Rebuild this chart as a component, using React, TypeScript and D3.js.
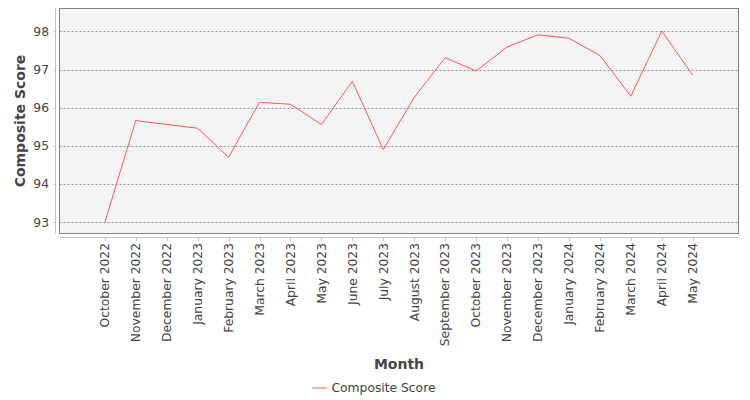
import React from 'react'
import { scalePoint, scaleLinear, line } from 'd3'

const months = [
    'October 2022', 'November 2022', 'December 2022', 'January 2023', 'February 2023',
    'March 2023', 'April 2023', 'May 2023', 'June 2023', 'July 2023', 'August 2023',
    'September 2023', 'October 2023', 'November 2023', 'December 2023', 'January 2024',
    'February 2024', 'March 2024', 'April 2024', 'May 2024',
]
const scores = [
    92.99, 95.66, 95.56, 95.46, 94.70, 96.14, 96.09, 95.56, 96.69, 94.90, 96.27,
    97.31, 96.96, 97.59, 97.91, 97.82, 97.37, 96.30, 98.01, 96.85,
]
const yTicks = [93, 94, 95, 96, 97, 98]
const seriesName = 'Composite Score'

const W = 750
const H = 400
const plot = { left: 59.5, right: 738.5, top: 8.5, bottom: 233.5 }
const font = '"DejaVu Sans", sans-serif'
const textColor = '#444444'
const lineColor = '#ff5555'

const App = () => {
    const x = scalePoint<string>()
        .domain(months)
        .range([59, 738.5])
        .padding(1.48)
    const y = scaleLinear()
        .domain([92.7, 98.6])
        .range([plot.bottom, plot.top])

    const path = line<number>()
        .x((d, i) => x(months[i]) as number)
        .y(d => y(d))(scores)

    const xAxisY = 237.5
    const yAxisX = 55.5

    return (
        <div style={{ position: 'absolute', left: 0, top: 0 }}>
            <svg width={W} height={H} style={{ display: 'block', fontFamily: font }}>
                <rect x={0} y={0} width={W} height={H} fill="#ffffff" />
                {/* plot background */}
                <rect
                    x={plot.left}
                    y={plot.top}
                    width={plot.right - plot.left}
                    height={plot.bottom - plot.top}
                    fill="#f4f4f4"
                />
                {/* gridlines */}
                {yTicks.map(t => (
                    <line
                        key={'g' + t}
                        x1={plot.left}
                        x2={plot.right}
                        y1={Math.round(y(t)) + 0.5}
                        y2={Math.round(y(t)) + 0.5}
                        stroke="#777777"
                        strokeWidth={0.8}
                        strokeDasharray="2,2"
                    />
                ))}
                {/* series line */}
                <path d={path ?? ''} fill="none" stroke={lineColor} strokeWidth={1} />
                {/* plot outline */}
                <rect
                    x={plot.left}
                    y={plot.top}
                    width={plot.right - plot.left}
                    height={plot.bottom - plot.top}
                    fill="none"
                    stroke="#808080"
                    strokeWidth={1}
                />

                {/* y axis */}
                <line x1={yAxisX} x2={yAxisX} y1={plot.top} y2={plot.bottom} stroke="#c0c0c0" />
                {yTicks.map(t => (
                    <g key={'y' + t}>
                        <line
                            x1={yAxisX - 2}
                            x2={yAxisX}
                            y1={Math.round(y(t)) + 0.5}
                            y2={Math.round(y(t)) + 0.5}
                            stroke="#c0c0c0"
                        />
                        <text
                            x={49}
                            y={y(t) + 4.5}
                            textAnchor="end"
                            fontSize={12.3}
                            fill={textColor}
                        >
                            {t}
                        </text>
                    </g>
                ))}
                <text
                    transform={`translate(25,${(plot.top + plot.bottom) / 2}) rotate(-90)`}
                    textAnchor="middle"
                    fontSize={14}
                    fontWeight="bold"
                    fill={textColor}
                >
                    Composite Score
                </text>

                {/* x axis */}
                <line x1={plot.left} x2={plot.right} y1={xAxisY} y2={xAxisY} stroke="#c0c0c0" />
                {months.map(m => {
                    const cx = x(m) as number
                    return (
                        <g key={m}>
                            <line
                                x1={Math.round(cx) + 0.5}
                                x2={Math.round(cx) + 0.5}
                                y1={xAxisY}
                                y2={xAxisY + 3.5}
                                stroke="#c0c0c0"
                            />
                            <text
                                transform={`translate(${cx + 4.3},243) rotate(-90)`}
                                textAnchor="end"
                                fontSize={12.3}
                                fill={textColor}
                            >
                                {m}
                            </text>
                        </g>
                    )
                })}
                <text
                    x={(plot.left + plot.right) / 2}
                    y={369}
                    textAnchor="middle"
                    fontSize={14}
                    fontWeight="bold"
                    fill={textColor}
                >
                    Month
                </text>

                {/* legend */}
                <line x1={312} x2={327} y1={388} y2={388} stroke={lineColor} strokeWidth={1} />
                <text x={331.5} y={392.3} fontSize={12.3} fill={textColor}>
                    {seriesName}
                </text>
            </svg>
        </div>
    )
}

export default App
